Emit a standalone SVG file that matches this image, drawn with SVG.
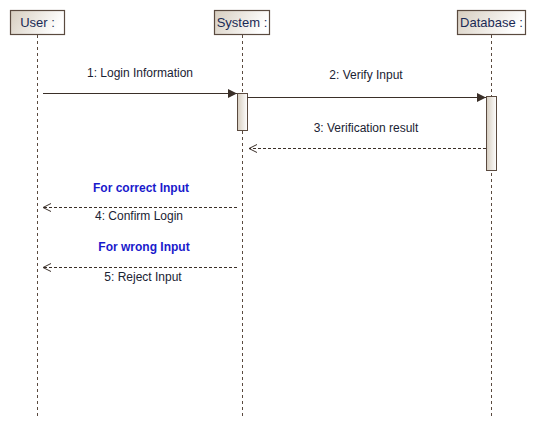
<svg xmlns="http://www.w3.org/2000/svg" width="536" height="427" viewBox="0 0 536 427">
<style>
.box{fill:url(#g);stroke:#5a4a3f;stroke-width:1.2}
.act{fill:url(#ga);stroke:#5a4a3f;stroke-width:1}
.life{stroke:#5a4a3f;stroke-width:1;stroke-dasharray:3,3;fill:none}
.t{font-family:"Liberation Sans",Arial,sans-serif;font-size:12px;fill:#1a2233}
.h{font-family:"Liberation Sans",Arial,sans-serif;font-size:13px;fill:#1a2a55}
.g{font-family:"Liberation Sans",Arial,sans-serif;font-size:12px;font-weight:bold;fill:#1a1acc}
.m{stroke:#3a2f28;stroke-width:1.2;fill:none}
.r{stroke:#3a2f28;stroke-width:1;stroke-dasharray:3,2;fill:none}
</style>
<defs>
<linearGradient id="g" x1="0" y1="0" x2="1" y2="0.3">
<stop offset="0" stop-color="#d6cdbf"/><stop offset="1" stop-color="#ffffff"/>
</linearGradient>
<linearGradient id="ga" x1="0" y1="0" x2="1" y2="0">
<stop offset="0" stop-color="#d6cdbf"/><stop offset="1" stop-color="#ffffff"/>
</linearGradient>
<marker id="fa" markerWidth="10" markerHeight="10" refX="9" refY="4.5" orient="auto" markerUnits="userSpaceOnUse">
<path d="M0,0 L9,4.5 L0,9 Z" fill="#3a2f28"/>
</marker>
<marker id="oa" markerWidth="11" markerHeight="10" refX="9" refY="4" orient="auto" markerUnits="userSpaceOnUse">
<path d="M1,0 L9,4 L1,8" fill="none" stroke="#3a2f28" stroke-width="1"/>
</marker>
</defs>
<g id="user">
<rect class="box" x="10.5" y="10.5" width="54" height="24"/>
<text class="h" x="37.5" y="27" text-anchor="middle">User :</text>
<line class="life" x1="37.5" y1="35" x2="37.5" y2="417"/>
</g>
<g id="system">
<rect class="box" x="214.5" y="10.5" width="55" height="24"/>
<text class="h" x="242" y="27" text-anchor="middle">System :</text>
<line class="life" x1="242.5" y1="35" x2="242.5" y2="417"/>
<rect class="act" x="237.5" y="93.5" width="10" height="37"/>
</g>
<g id="database">
<rect class="box" x="457.5" y="10.5" width="68" height="24"/>
<text class="h" x="491.5" y="27" text-anchor="middle">Database :</text>
<line class="life" x1="491.5" y1="35" x2="491.5" y2="417"/>
<rect class="act" x="486.5" y="96.5" width="10" height="74"/>
</g>
<g id="connectors">
<line class="m" x1="43" y1="93.5" x2="237" y2="93.5" marker-end="url(#fa)"/>
<text class="t" x="140" y="77" text-anchor="middle">1: Login Information</text>
<line class="m" x1="247.5" y1="97.5" x2="486" y2="97.5" marker-end="url(#fa)"/>
<text class="t" x="366" y="79" text-anchor="middle">2: Verify Input</text>
<line class="r" x1="486" y1="148.5" x2="249" y2="148.5" marker-end="url(#oa)"/>
<text class="t" x="366" y="132" text-anchor="middle">3: Verification result</text>
<text class="g" x="141" y="192" text-anchor="middle">For correct Input</text>
<line class="r" x1="237" y1="207.5" x2="43" y2="207.5" marker-end="url(#oa)"/>
<text class="t" x="139" y="220" text-anchor="middle">4: Confirm Login</text>
<text class="g" x="144" y="251" text-anchor="middle">For wrong Input</text>
<line class="r" x1="237" y1="267.5" x2="43" y2="267.5" marker-end="url(#oa)"/>
<text class="t" x="143" y="281" text-anchor="middle">5: Reject Input</text>
</g>
</svg>
